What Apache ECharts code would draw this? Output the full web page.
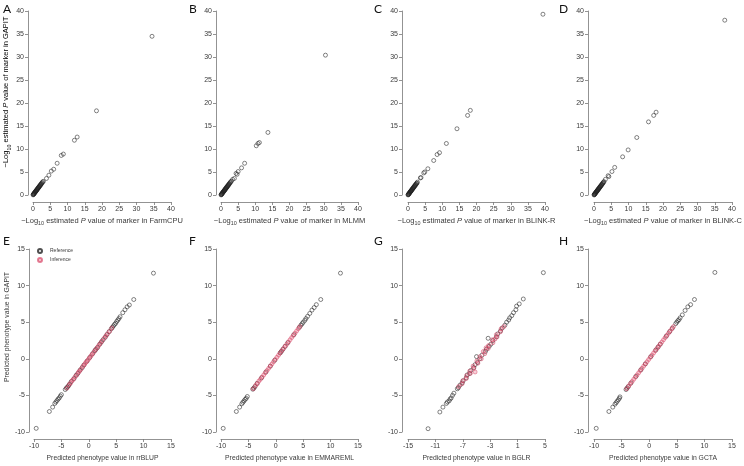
<!DOCTYPE html>
<html><head><meta charset="utf-8">
<script src="https://cdn.jsdelivr.net/npm/echarts@6/dist/echarts.min.js"></script>
<style>html,body{margin:0;padding:0;background:#fff}#c{width:744px;height:466px}</style>
</head><body><div id="c"></div>
<script>
// ---------- data ----------
const panelLetters = ['A','B','C','D','E','F','G','H'];
const topMethods = ['FarmCPU','MLMM','BLINK-R','BLINK-C'];
const bottomMethods = ['rrBLUP','EMMAREML','BGLR','GCTA'];
const topTicks = [0,5,10,15,20,25,30,35,40];
const bottomYTicks = [-10,-5,0,5,10,15];
const bottomXTicks = [-10,-5,0,5,10,15];
const bglrXTicks = [-15,-11,-7,-3,1,5];

const ptsA = [[0.02,0.03],[0.08,0.1],[0.14,0.12],[0.2,0.24],[0.27,0.25],[0.33,0.38],[0.4,0.36],[0.46,0.52],[0.53,0.5],[0.6,0.66],[0.68,0.63],[0.75,0.82],[0.83,0.78],[0.9,0.97],[0.98,0.93],[1.05,1.12],[1.13,1.08],[1.2,1.27],[1.3,1.25],[1.38,1.45],[1.46,1.42],[1.55,1.62],[1.63,1.6],[1.72,1.8],[1.8,1.77],[1.9,1.98],[2.0,1.96],[2.1,2.18],[2.2,2.16],[2.3,2.38],[2.4,2.36],[2.52,2.6],[2.65,2.64],[2.8,2.86],[3.0,2.95],[3.9,3.6],[4.6,4.3],[5.3,5.2],[6.0,5.6],[7.0,6.9],[8.2,8.6],[8.8,8.9],[12.0,11.9],[12.8,12.6],[18.4,18.3],[34.5,34.5]];
const ptsB = [[0.02,0.02],[0.07,0.09],[0.13,0.11],[0.19,0.22],[0.26,0.24],[0.32,0.36],[0.39,0.37],[0.45,0.5],[0.52,0.49],[0.59,0.64],[0.66,0.62],[0.74,0.8],[0.81,0.77],[0.89,0.95],[0.97,0.92],[1.04,1.1],[1.12,1.07],[1.2,1.26],[1.28,1.24],[1.37,1.43],[1.45,1.4],[1.54,1.6],[1.62,1.58],[1.71,1.78],[1.8,1.76],[1.9,1.97],[1.99,1.95],[2.1,2.16],[2.2,2.15],[2.31,2.37],[2.42,2.38],[2.55,2.6],[2.7,2.68],[2.85,2.9],[3.05,3.0],[3.4,3.4],[3.9,3.6],[4.4,4.7],[4.7,4.5],[5.0,5.1],[6.0,5.9],[6.9,6.9],[10.3,10.7],[10.8,11.2],[11.2,11.4],[13.7,13.6],[30.5,30.4]];
const ptsC = [[0.01,0.02],[0.06,0.08],[0.12,0.1],[0.18,0.21],[0.25,0.23],[0.31,0.35],[0.38,0.36],[0.44,0.49],[0.51,0.48],[0.58,0.63],[0.65,0.61],[0.72,0.78],[0.8,0.76],[0.87,0.93],[0.95,0.9],[1.02,1.08],[1.1,1.05],[1.18,1.24],[1.26,1.22],[1.35,1.41],[1.43,1.38],[1.52,1.58],[1.6,1.56],[1.69,1.76],[1.78,1.74],[1.88,1.95],[1.97,1.93],[2.07,2.14],[2.17,2.12],[2.28,2.34],[2.38,2.35],[2.5,2.56],[2.62,2.6],[2.75,2.8],[3.6,3.7],[3.8,3.8],[4.6,4.8],[4.9,5.0],[5.8,5.7],[7.5,7.5],[8.5,8.8],[9.2,9.2],[11.2,11.2],[14.3,14.4],[17.4,17.3],[18.2,18.4],[39.4,39.3]];
const ptsD = [[0.02,0.01],[0.07,0.08],[0.13,0.1],[0.19,0.21],[0.25,0.23],[0.32,0.35],[0.38,0.36],[0.45,0.49],[0.52,0.48],[0.59,0.63],[0.66,0.61],[0.73,0.78],[0.8,0.76],[0.88,0.93],[0.95,0.91],[1.03,1.08],[1.11,1.06],[1.19,1.24],[1.27,1.22],[1.36,1.41],[1.44,1.39],[1.53,1.58],[1.61,1.57],[1.7,1.76],[1.79,1.75],[1.89,1.95],[1.98,1.94],[2.08,2.14],[2.18,2.13],[2.29,2.34],[2.39,2.36],[2.51,2.56],[2.63,2.61],[2.76,2.8],[2.9,2.92],[3.3,3.4],[4.1,4.2],[4.3,4.0],[5.2,5.1],[6.0,6.0],[8.3,8.3],[9.9,9.8],[12.4,12.5],[15.8,15.9],[17.3,17.3],[18.0,18.0],[37.9,38.0]];

const refE = [[-9.6,-9.5],[-7.2,-7.2],[-6.6,-6.6],[-6.2,-6.1],[-6.0,-5.9],[-5.8,-5.7],[-5.6,-5.5],[-5.4,-5.35],[-5.2,-5.1],[-5.0,-4.9],[-4.3,-4.2],[-4.1,-4.0],[-3.9,-3.85],[-3.7,-3.7],[-3.5,-3.45],[-3.2,-3.1],[-2.7,-2.7],[-2.3,-2.25],[-2.0,-2.0],[-1.6,-1.55],[-1.2,-1.2],[-0.9,-0.85],[-0.3,-0.3],[0.2,0.2],[0.7,0.7],[1.1,1.1],[1.3,1.3],[1.6,1.55],[2.0,2.0],[2.3,2.3],[2.6,2.6],[3.0,2.95],[3.3,3.3],[3.7,3.7],[4.1,4.1],[4.3,4.3],[4.5,4.5],[4.7,4.7],[4.9,4.85],[5.1,5.1],[5.3,5.3],[5.5,5.5],[5.7,5.75],[6.2,6.3],[6.6,6.7],[7.0,7.1],[7.4,7.35],[8.2,8.1],[11.8,11.7]];
const infE = [[-4.0,-4.0],[-3.6,-3.55],[-3.3,-3.3],[-3.0,-2.95],[-2.8,-2.8],[-2.5,-2.45],[-2.2,-2.2],[-1.9,-1.85],[-1.7,-1.7],[-1.4,-1.4],[-1.1,-1.05],[-0.8,-0.8],[-0.6,-0.55],[-0.4,-0.4],[-0.1,-0.1],[0.1,0.1],[0.4,0.4],[0.6,0.6],[0.9,0.9],[1.2,1.2],[1.5,1.5],[1.8,1.8],[2.1,2.1],[2.4,2.4],[2.8,2.8],[3.1,3.1],[3.4,3.4],[3.8,3.75],[4.2,4.2]];
const refF = [[-9.6,-9.5],[-7.2,-7.2],[-6.6,-6.6],[-6.2,-6.15],[-6.0,-5.95],[-5.8,-5.75],[-5.6,-5.55],[-5.4,-5.4],[-5.2,-5.15],[-4.2,-4.15],[-4.0,-4.0],[-3.8,-3.8],[-3.4,-3.35],[-2.6,-2.6],[-1.8,-1.8],[-1.0,-1.0],[-0.2,-0.2],[0.8,0.8],[1.0,1.0],[1.3,1.3],[1.7,1.7],[2.2,2.2],[3.3,3.3],[4.3,4.3],[4.6,4.6],[4.8,4.8],[5.0,5.0],[5.3,5.25],[5.5,5.5],[5.8,5.8],[6.2,6.2],[6.6,6.65],[7.0,7.0],[7.4,7.4],[8.2,8.1],[11.8,11.7]];
const infF = [[-4.1,-4.1],[-3.7,-3.65],[-3.4,-3.4],[-3.1,-3.05],[-2.8,-2.8],[-2.5,-2.5],[-2.2,-2.2],[-1.9,-1.9],[-1.6,-1.6],[-1.3,-1.3],[-1.0,-1.0],[-0.7,-0.7],[-0.4,-0.4],[-0.1,-0.1],[0.2,0.2],[0.5,0.5],[0.8,0.8],[1.1,1.1],[1.4,1.4],[1.7,1.7],[2.0,2.0],[2.3,2.3],[2.6,2.6],[2.9,2.9],[3.2,3.2],[3.5,3.5],[3.8,3.8],[4.1,4.1],[4.4,4.4]];
const refG = [[-12.07,-9.55],[-10.35,-7.27],[-9.9,-6.6],[-9.4,-6.1],[-9.25,-5.9],[-9.0,-5.75],[-8.85,-5.5],[-8.7,-5.35],[-8.5,-5.0],[-8.3,-4.7],[-7.8,-4.1],[-7.65,-3.95],[-7.4,-3.6],[-7.1,-3.3],[-6.95,-3.0],[-6.5,-2.6],[-6.35,-2.2],[-6.0,-2.0],[-5.85,-1.6],[-5.4,-1.2],[-5.2,-0.8],[-4.85,-0.5],[-5.0,0.3],[-4.5,0.0],[-4.2,0.5],[-3.7,1.0],[-3.55,1.3],[-3.15,1.7],[-2.9,2.0],[-3.3,2.8],[-2.6,2.5],[-2.1,3.0],[-1.9,3.4],[-1.5,3.8],[-1.25,4.2],[-0.85,4.6],[-0.6,5.0],[-0.3,5.3],[-0.15,5.6],[0.15,5.9],[0.4,6.3],[0.75,6.7],[0.85,7.2],[1.24,7.5],[1.83,8.17],[4.76,11.77]];
const infG = [[-7.6,-3.8],[-7.1,-3.4],[-7.0,-3.0],[-6.5,-2.7],[-6.45,-2.3],[-5.9,-2.0],[-6.0,-1.7],[-5.4,-1.3],[-5.5,-1.0],[-4.8,-0.6],[-4.95,-0.3],[-4.3,0.0],[-4.5,0.3],[-3.8,0.7],[-4.0,1.0],[-3.3,1.4],[-3.25,1.8],[-2.6,2.2],[-2.7,2.6],[-2.0,3.0],[-2.1,3.3],[-1.5,3.7],[-1.4,4.1],[-1.0,4.4],[-5.2,-1.8],[-3.6,1.5],[-2.3,2.7]];
const refH = [[-9.6,-9.5],[-7.3,-7.2],[-6.6,-6.6],[-6.2,-6.2],[-6.0,-6.0],[-5.8,-5.8],[-5.6,-5.6],[-5.4,-5.4],[-5.3,-5.2],[-4.2,-4.2],[-4.0,-4.0],[-3.8,-3.8],[-3.3,-3.3],[-2.4,-2.4],[-1.5,-1.5],[-0.7,-0.7],[0.3,0.3],[1.2,1.2],[1.6,1.6],[2.0,2.0],[3.1,3.1],[3.7,3.7],[4.2,4.2],[4.8,4.8],[5.0,5.0],[5.2,5.2],[5.4,5.35],[5.6,5.6],[6.0,6.0],[6.5,6.6],[7.0,7.1],[7.5,7.4],[8.2,8.1],[11.9,11.8]];
const infH = [[-4.1,-4.1],[-3.7,-3.7],[-3.4,-3.4],[-3.1,-3.1],[-2.8,-2.8],[-2.5,-2.5],[-2.2,-2.2],[-1.9,-1.9],[-1.6,-1.6],[-1.3,-1.3],[-1.0,-1.0],[-0.7,-0.7],[-0.4,-0.4],[-0.1,-0.1],[0.2,0.2],[0.5,0.5],[0.8,0.8],[1.1,1.1],[1.4,1.4],[1.7,1.7],[2.0,2.0],[2.3,2.3],[2.6,2.6],[2.9,2.9],[3.2,3.2],[3.5,3.5],[3.8,3.8],[4.1,4.1],[4.4,4.4]];

// ---------- chart ----------
const FONT = '"Liberation Sans", Arial, sans-serif';
const TXT = '#3a3a3a', AX = '#777';
const topPts = [ptsA, ptsB, ptsC, ptsD];
const botRef = [refE, refF, refG, refH];
const botInf = [infE, infF, infG, infH];

const topLayout = [{left:33,width:138,yo:5},{left:221,width:137,yo:5},{left:408,width:137,yo:6},{left:594,width:138,yo:6}];
const botLayout = [{left:34,width:137,yo:5},{left:221,width:137,yo:5},{left:408,width:137,yo:6},{left:594,width:138,yo:6}];

const rich = (fs) => ({
  n:{fontSize:fs,color:TXT,fontFamily:FONT,lineHeight:fs+4,verticalAlign:'middle'},
  s:{fontSize:fs*0.72,color:TXT,fontFamily:FONT,lineHeight:fs*0.72,verticalAlign:'bottom'},
  i:{fontSize:fs,color:TXT,fontFamily:FONT,fontStyle:'italic',lineHeight:fs+4,verticalAlign:'middle'}
});
const logName = (m) => '{n|\u2212Log}{s|10}{n| estimated }{i|P}{n| value of marker in ' + m + '}';

const grid = [], xAxis = [], yAxis = [], series = [];
function axisCommon(){
  return {
    type:'value', splitLine:{show:false},
    axisLine:{show:true,onZero:false,lineStyle:{color:AX,width:0.8}},
    axisTick:{show:true,length:3,inside:false,lineStyle:{color:AX,width:0.8}},
    axisLabel:{fontSize:7,color:TXT,fontFamily:FONT,margin:4}
  };
}
const refStyle = {color:'rgba(0,0,0,0)',borderColor:'#222',borderWidth:0.7};
const infStyle = {color:'rgba(226,92,120,0.35)',borderColor:'rgba(212,55,90,0.8)',borderWidth:0.7};

for (let i=0;i<4;i++){
  const L = topLayout[i];
  grid.push({left:L.left,top:11,width:L.width,height:184});
  xAxis.push(Object.assign(axisCommon(),{gridIndex:i,min:topTicks[0],max:topTicks[topTicks.length-1],interval:topTicks[1]-topTicks[0],offset:7,
    name:logName(topMethods[i]),nameLocation:'middle',nameGap:13,nameTextStyle:{rich:rich(7.5)}}));
  yAxis.push(Object.assign(axisCommon(),{gridIndex:i,min:topTicks[0],max:topTicks[topTicks.length-1],interval:topTicks[1]-topTicks[0],offset:L.yo}));
  series.push({type:'scatter',name:'Marker',xAxisIndex:i,yAxisIndex:i,data:topPts[i],symbol:'circle',symbolSize:4,itemStyle:refStyle,silent:true});
}
for (let i=0;i<4;i++){
  const L = botLayout[i], gi = i+4;
  const xt = (i===2) ? bglrXTicks : bottomXTicks;
  grid.push({left:L.left,top:249,width:L.width,height:183});
  xAxis.push(Object.assign(axisCommon(),{gridIndex:gi,min:xt[0],max:xt[xt.length-1],interval:xt[1]-xt[0],offset:7,
    name:'Predicted phenotype value in '+bottomMethods[i],nameLocation:'middle',nameGap:16,
    nameTextStyle:{fontSize:6.8,color:TXT,fontFamily:FONT}}));
  yAxis.push(Object.assign(axisCommon(),{gridIndex:gi,min:bottomYTicks[0],max:bottomYTicks[bottomYTicks.length-1],interval:bottomYTicks[1]-bottomYTicks[0],offset:L.yo}));
  series.push({type:'scatter',name:'Reference',xAxisIndex:gi,yAxisIndex:gi,data:botRef[i],symbol:'circle',symbolSize:4,itemStyle:refStyle,silent:true});
  series.push({type:'scatter',name:'Inference',xAxisIndex:gi,yAxisIndex:gi,data:botInf[i],symbol:'circle',symbolSize:4,itemStyle:infStyle,silent:true});
}

const letterPos = [[3,3],[189,3],[374,3],[559,3],[3,235],[189,235],[374,235],[559,235]];
const graphic = panelLetters.map((t,k)=>({type:'text',left:letterPos[k][0],top:letterPos[k][1],
  style:{text:t,fontSize:12,fontFamily:'Lato, "Liberation Sans", sans-serif',fill:'#111'}}));
graphic.push({type:'text',x:6,y:92,rotation:Math.PI/2,
  style:{text:'{n|\u2212Log}{s|10}{n| estimated }{i|P}{n| value of marker in GAPIT}',rich:rich(7.5),align:'center',verticalAlign:'middle'}});
graphic.push({type:'text',x:7,y:327,rotation:Math.PI/2,
  style:{text:'Predicted phenotype value in GAPIT',fontSize:6.8,fontFamily:FONT,fill:TXT,align:'center',verticalAlign:'middle'}});

const chart = echarts.init(document.getElementById('c'));
chart.setOption({
  animation:false,
  backgroundColor:'#fff',
  grid, xAxis, yAxis, series, graphic,
  legend:{data:['Reference','Inference'],left:32,top:243,orient:'vertical',itemWidth:4,itemHeight:4,itemGap:3,
    textStyle:{fontSize:5,color:TXT,fontFamily:FONT,padding:[0,0,0,3]},selectedMode:false}
});
</script></body></html>
